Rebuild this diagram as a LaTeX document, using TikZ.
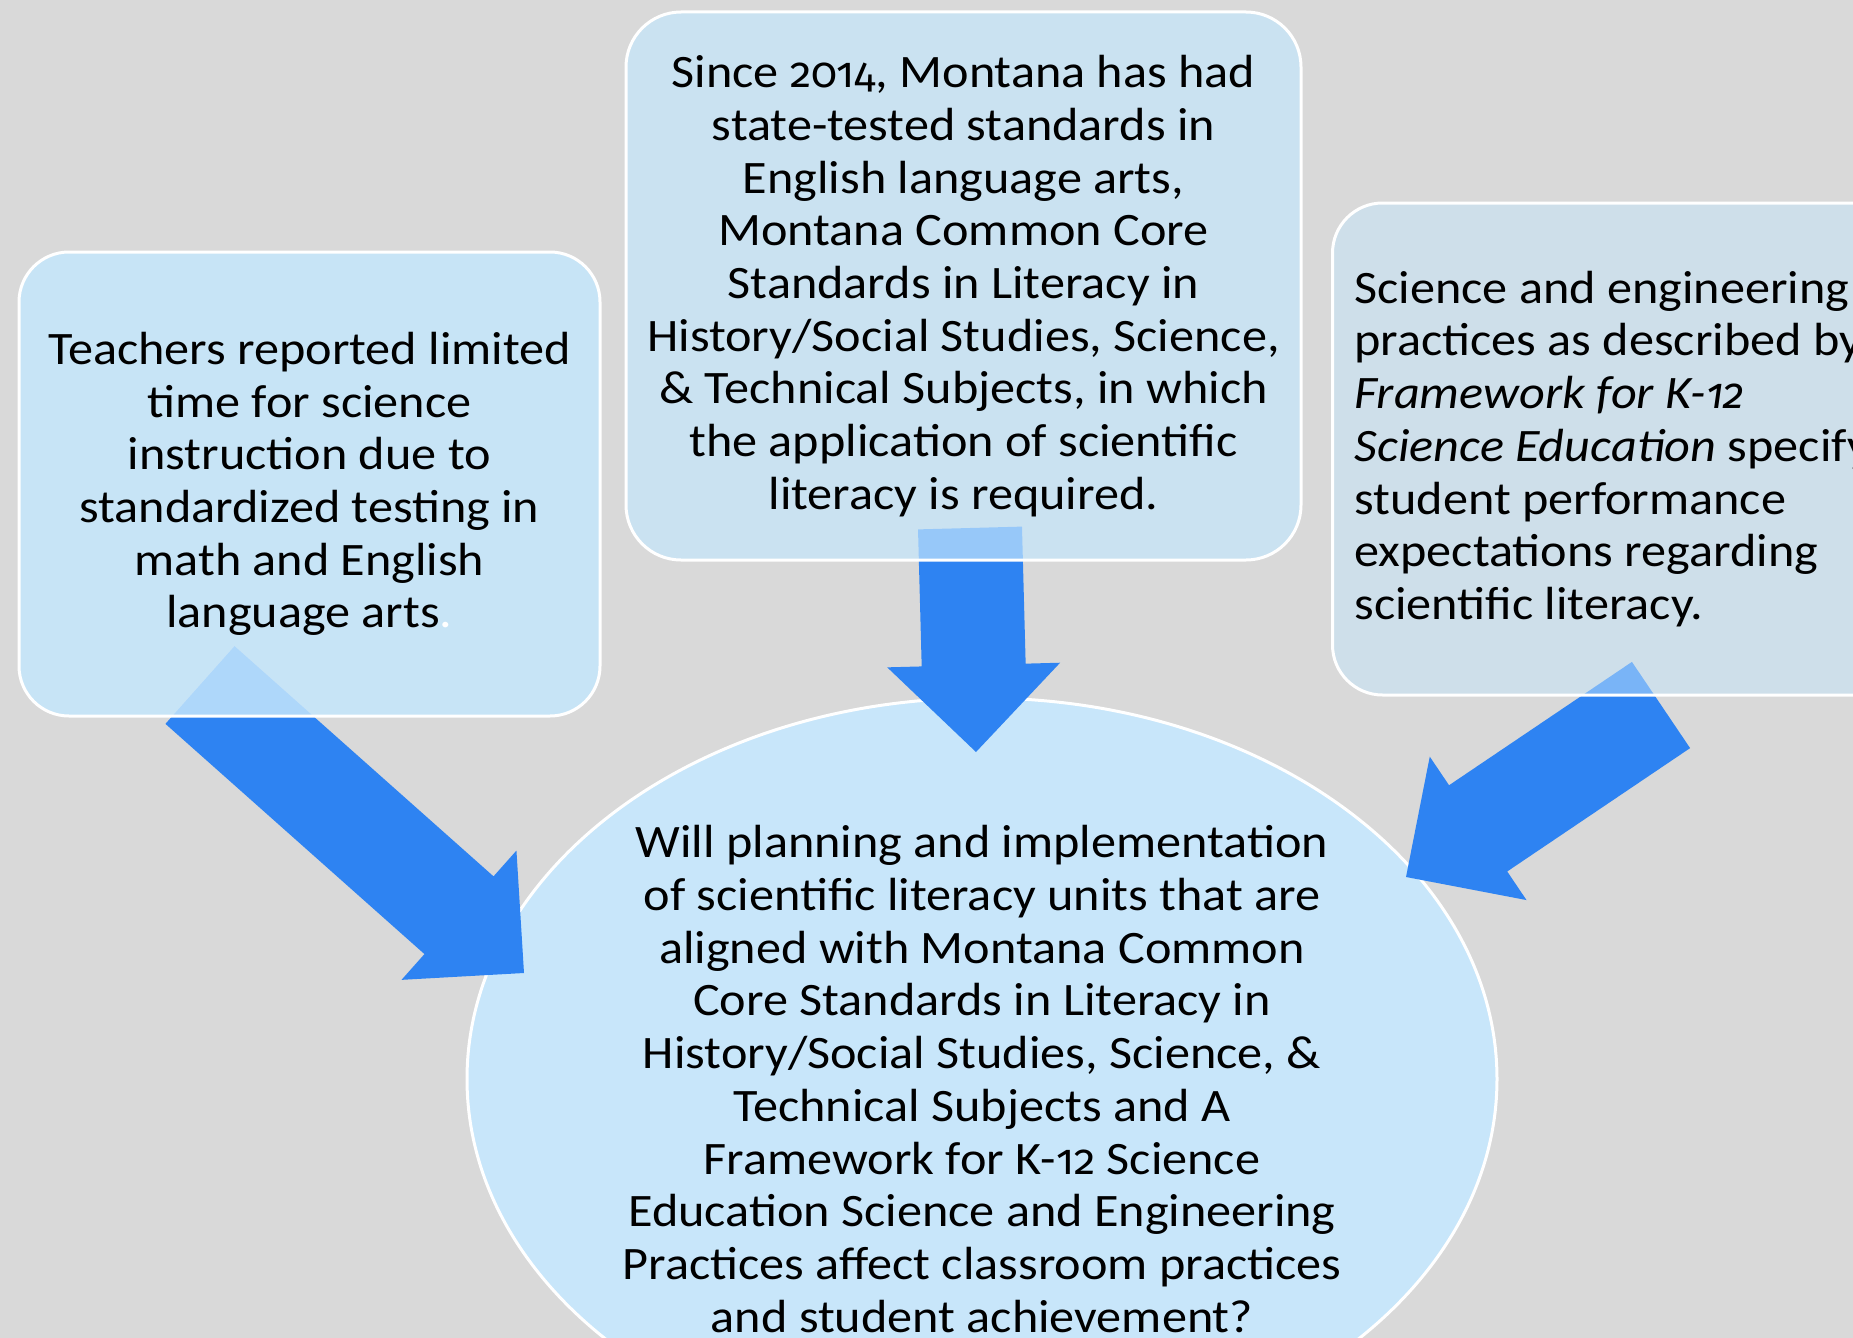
\documentclass[tikz,border=0pt]{standalone}
\usepackage{fontspec}
\setmainfont{Carlito}[FakeStretch=1.08]
\newfontfamily\figs{Fira Sans}[Numbers=OldStyle, Scale=0.92]
\usetikzlibrary{calc,shapes.geometric}

\definecolor{canvasgray}{RGB}{217,217,217}
\definecolor{arrowblue}{RGB}{46,131,242}
\definecolor{boxblue}{RGB}{197,230,252}
\definecolor{ovalblue}{RGB}{200,230,250}

\newcommand\bodyfont{\fontsize{46.5}{52.7}\selectfont}
\newcommand\osnum[1]{{\figs #1}}

% wide block arrow from a tail point to a tip point
\newcommand\blockarrow[2]{%
  \fill[arrowblue]
    ($(#1)!52pt!90:(#2)$)
    -- ($(#2)!87pt!(#1)!52pt!90:(#2)$)
    -- ($(#2)!87pt!(#1)!86.5pt!90:(#2)$)
    -- (#2)
    -- ($(#2)!87pt!(#1)!86.5pt!-90:(#2)$)
    -- ($(#2)!87pt!(#1)!52pt!-90:(#2)$)
    -- ($(#1)!52pt!-90:(#2)$) -- cycle;}

\tikzset{
  panel/.style={draw=white, line width=3pt, fill=boxblue, text opacity=1,
    inner sep=0pt, font=\bodyfont, align=center},
  oval/.style={ellipse, draw=white, line width=3pt, fill=ovalblue,
    inner sep=0pt, font=\bodyfont, align=center}
}

\begin{document}
\begin{tikzpicture}[x=1pt,y=-1pt]
\useasboundingbox (0,0) rectangle (1853,1338);
\clip (0,0) rectangle (1853,1338);
\fill[canvasgray] (0,0) rectangle (1853,1338);

% central question
\node[oval, minimum width=1030pt, minimum height=762pt] (question) at (982,1079)
  {Will planning and implementation\\
   of scientific literacy units that are\\
   aligned with Montana Common\\
   Core Standards in Literacy in\\
   History/Social Studies, Science, \&\\
   Technical Subjects and A\\
   Framework for K-\osnum{12} Science\\
   Education Science and Engineering\\
   Practices affect classroom practices\\
   and student achievement?};

% arrow ends
\coordinate (leftTail) at (200,685);
\coordinate (leftTip) at (524,973);
\coordinate (midTail) at (970,528);
\coordinate (midTip) at (976,752);
\coordinate (rightTail) at (1661,705);
\coordinate (rightTip) at (1406,877);

\blockarrow{leftTail}{leftTip}
\blockarrow{midTail}{midTip}
\blockarrow{rightTail}{rightTip}

% the three statements
\node[panel, fill opacity=0.85, rounded corners=50pt,
      minimum width=581pt, minimum height=464pt] (teachers) at (309.5,484)
  {Teachers reported limited\\
   time for science\\
   instruction due to\\
   standardized testing in\\
   math and English\\
   language arts{\color{white}.}};

\node[panel, fill opacity=0.7, rounded corners=55pt,
      minimum width=675pt, minimum height=548pt] (standards) at (963.5,286)
  {Since \osnum{2014}, Montana has had\\
   state-tested standards in\\
   English language arts,\\
   Montana Common Core\\
   Standards in Literacy in\\
   History/Social Studies, Science,\\
   \& Technical Subjects, in which\\
   the application of scientific\\
   literacy is required.};

\node[panel, fill opacity=0.5, rounded corners=50pt, anchor=west,
      align=flush left, text width=700pt, inner xsep=22pt,
      minimum width=744pt, minimum height=492pt] (practices) at (1331,449)
  {Science and engineering\\
   practices as described by\\
   \textit{Framework for K-\osnum{\itshape 12}}\\
   \textit{Science Education} specify\\
   student performance\\
   expectations regarding\\
   scientific literacy.};
\end{tikzpicture}
\end{document}
